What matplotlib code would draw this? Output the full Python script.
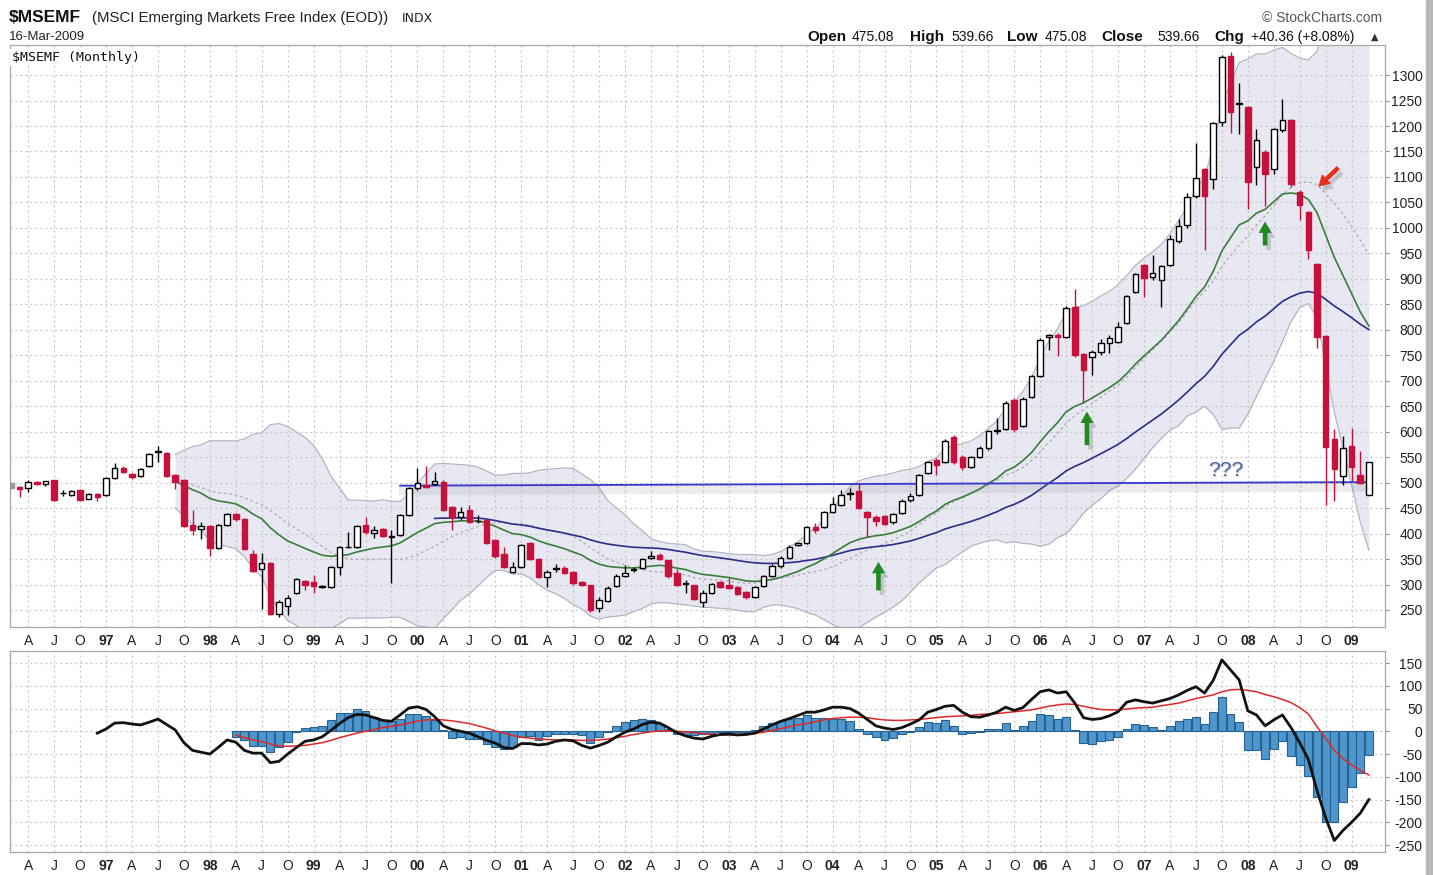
import numpy as np
import pandas as pd
import matplotlib
matplotlib.use("Agg")
import matplotlib.pyplot as plt
from matplotlib.patches import Rectangle

plt.rcParams["font.family"] = ["Liberation Sans", "DejaVu Sans"]

# monthly bars, Feb 1996 .. Mar 2009
months = pd.period_range("1996-02", "2009-03", freq="M")

open_ = [
    500, 491, 489, 502, 497, 505, 479, 476, 485, 468, 477,                 # 1996
    475, 509, 529, 516, 513, 533, 560, 558, 515, 505, 417, 408,            # 1997
    414, 372, 416, 438, 428, 360, 330, 343, 243, 257, 283, 306,            # 1998
    304, 296, 296, 335, 373, 374, 417, 402, 408, 394, 397, 437,            # 1999
    489, 495, 497, 502, 453, 433, 446, 424, 427, 387, 360, 325,            # 2000
    335, 381, 351, 315, 331, 333, 325, 305, 299, 253, 268, 297,            # 2001
    317, 329, 332, 353, 358, 348, 322, 301, 299, 266, 284, 304,            # 2002
    299, 296, 286, 275, 297, 317, 336, 353, 378, 381, 413, 413,            # 2003
    443, 457, 478, 484, 443, 433, 434, 423, 440, 466, 476, 518,            # 2004
    545, 541, 590, 551, 531, 551, 567, 601, 605, 663, 612, 668,            # 2005
    709, 786, 789, 786, 844, 752, 747, 756, 774, 777, 814, 875,            # 2006
    927, 903, 897, 927, 975, 1005, 1062, 1116, 1096, 1207, 1338, 1243,     # 2007
    1238, 1120, 1149, 1116, 1192, 1212, 1071, 1031, 930, 788, 585, 513,    # 2008
    572, 515, 475.08,                                                      # 2009
]
high = [
    501, 493, 505, 503, 504, 506, 485, 486, 487, 479, 479,
    512, 539, 532, 518, 528, 558, 571, 560, 517, 507, 446, 423,
    416, 419, 441, 440, 430, 368, 361, 345, 270, 280, 313, 309,
    319, 299, 337, 376, 404, 416, 433, 414, 410, 407, 439, 491,
    528, 533, 521, 505, 455, 453, 456, 436, 429, 389, 374, 345,
    380, 383, 353, 328, 340, 336, 327, 307, 300, 276, 297, 320,
    338, 335, 353, 365, 361, 349, 330, 309, 300, 289, 303, 306,
    312, 298, 288, 298, 319, 340, 356, 378, 384, 414, 420, 444,
    472, 486, 489, 499, 445, 436, 436, 441, 467, 479, 517, 542,
    548, 585, 593, 554, 553, 572, 604, 626, 660, 666, 668, 712,
    783, 792, 794, 846, 881, 755, 760, 781, 790, 816, 868, 912,
    930, 947, 928, 986, 1017, 1069, 1166, 1118, 1207, 1340, 1345, 1284,
    1240, 1194, 1152, 1196, 1253, 1214, 1075, 1034, 932, 790, 606, 591,
    608, 563, 539.66,
]
low = [
    488, 471, 482, 496, 493, 464, 474, 474, 465, 467, 463,
    474, 507, 518, 508, 511, 531, 541, 511, 487, 412, 397, 389,
    355, 370, 414, 425, 367, 325, 252, 240, 236, 240, 281, 289,
    283, 293, 294, 319, 371, 372, 400, 391, 393, 302, 395, 435,
    486, 489, 495, 444, 407, 427, 421, 421, 379, 352, 332, 322,
    333, 348, 312, 296, 325, 320, 300, 298, 247, 247, 266, 295,
    315, 325, 330, 351, 349, 313, 297, 283, 269, 256, 282, 293,
    291, 279, 271, 273, 295, 315, 333, 350, 375, 379, 401, 411,
    441, 455, 466, 448, 393, 414, 416, 418, 438, 462, 474, 516,
    515, 538, 537, 525, 529, 549, 565, 596, 603, 599, 610, 666,
    707, 760, 749, 784, 747, 659, 711, 750, 755, 775, 812, 872,
    865, 898, 845, 925, 970, 1000, 1058, 956, 1077, 1200, 1186, 1184,
    1038, 1084, 1042, 1105, 1188, 1080, 1016, 938, 764, 456, 463, 496,
    504, 497, 475.08,
]
close = [
    490, 487, 502, 497, 503, 466, 480, 484, 466, 477, 472,
    510, 528, 520, 512, 526, 556, 562, 513, 502, 415, 407, 415,
    371, 417, 438, 428, 369, 327, 343, 243, 265, 273, 311, 299,
    297, 297, 335, 373, 374, 414, 404, 407, 395, 396, 437, 489,
    499, 492, 504, 446, 433, 442, 423, 425, 381, 355, 335, 335,
    378, 350, 314, 325, 332, 322, 302, 300, 249, 270, 294, 317,
    323, 330, 351, 355, 351, 316, 299, 302, 271, 283, 301, 295,
    293, 281, 276, 296, 317, 337, 353, 373, 381, 412, 407, 442,
    459, 476, 480, 450, 433, 424, 419, 438, 464, 474, 515, 540,
    535, 582, 541, 531, 551, 567, 602, 604, 657, 605, 665, 709,
    780, 789, 785, 842, 751, 722, 756, 775, 783, 806, 866, 909,
    901, 912, 925, 979, 1003, 1060, 1097, 1062, 1205, 1335, 1227, 1246,
    1090, 1172, 1106, 1194, 1212, 1086, 1044, 956, 786, 569, 526, 567,
    530, 499.30, 539.66,
]

# lower panel (black line from Dec 1996, red line and bars from Apr 1998)
macd_start = "1996-12"
macd_vals = [
    -4,                                                     # 1996
    5, 18, 19, 16, 14, 20, 27, 15, 3, -25, -42, -46,        # 1997
    -50, -35, -19, -24, -42, -48, -48, -69, -66, -50, -36, -22,
    -19, -12, 2, 17, 30, 37, 36, 30, 24, 22, 36, 51,
    54, 48, 32, 12, 4, 0, -4, -12, -20, -26, -36, -38,
    -27, -27, -30, -28, -22, -19, -21, -31, -37, -31, -24, -12,
    -2, 5, 15, 20, 18, 8, -3, -10, -15, -17, -11, -7,
    -6, -8, -7, -4, 5, 14, 22, 28, 35, 42, 42, 47,
    53, 53, 50, 40, 26, 12, 7, 4, 8, 16, 25, 42,
    48, 55, 57, 42, 32, 31, 36, 42, 53, 46, 52, 70,
    87, 91, 84, 87, 62, 30, 26, 28, 34, 43, 64, 69,
    65, 62, 67, 72, 80, 90, 98, 84, 112, 157, 135, 113,
    45, 36, 12, 25, 36, 8, -25, -62, -130, -190, -240, -218,
    -200, -180, -150,                                       # 2009
]
signal_start = "1998-04"
signal_vals = [
    -8, -14, -19, -23, -28, -32, -33, -32, -31,             # 1998
    -28, -25, -20, -14, -9, -4, 0, 4, 8, 11, 14, 18,
    22, 25, 26, 25, 23, 20, 17, 12, 7, 1, -4, -9,
    -13, -15, -17, -18, -19, -19, -19, -20, -20, -19, -17, -14,
    -11, -7, -4, -1, 1, 1, 0, -1, -3, -5, -7, -8,
    -8, -7, -6, -5, -2, 2, 6, 10, 14, 17, 21, 25,
    28, 30, 31, 31, 30, 27, 25, 24, 24, 25, 26, 28,
    30, 32, 33, 34, 35, 37, 38, 39, 41, 43, 45, 47,
    51, 55, 58, 60, 59, 55, 51, 48, 47, 47, 49, 51,
    52, 53, 56, 59, 62, 67, 72, 76, 80, 87, 91, 92,
    90, 87, 81, 76, 70, 63, 52, 38, 10, -15, -42, -60,
    -74, -86, -96,                                          # 2009
]
hist_vals = [
    -12, -19, -32, -32, -45, -34, -23, -2, 7,               # 1998
    9, 12, 25, 41, 41, 48, 45, 32, 25, 23, 28, 39,
    38, 33, 25, 3, -15, -12, -18, -17, -28, -35, -38, -35,
    -12, -10, -20, -10, -5, -5, -5, -8, -25, -12, -2, 12,
    20, 25, 28, 25, 15, 5, -5, -8, -8, -5, -3, -2,
    -1, -1, -1, 3, 12, 18, 22, 28, 30, 35, 30, 30,
    28, 28, 22, 5, -5, -12, -20, -15, -5, -2, 10, 20,
    18, 24, 12, -5, -3, -2, 5, 5, 18, 3, 12, 22,
    38, 35, 28, 32, 2, -25, -27, -22, -20, -12, 5, 15,
    14, 9, 3, 12, 22, 28, 32, 15, 42, 75, 38, 20,
    -42, -42, -60, -38, -22, -55, -75, -98, -145, -200, -200, -155,
    -122, -92, -52,                                         # 2009
]

# horizontal trend line drawn on the chart
trend_months = ["1999-11", "2009-03"]
trend_values = [494, 501]

df = pd.DataFrame({"open": open_, "high": high, "low": low, "close": close}, index=months)
x = np.arange(len(df))


def ema(values, n):
    # stockcharts style: seeded with the simple average of the first n values
    v = np.asarray(values, dtype=float)
    out = np.full(len(v), np.nan)
    out[n - 1] = v[:n].mean()
    a = 2.0 / (n + 1)
    for k in range(n, len(v)):
        out[k] = out[k - 1] + a * (v[k] - out[k - 1])
    return out


ema20 = ema(df["close"], 20)
ema50 = ema(df["close"], 50)
sma20 = df["close"].rolling(20).mean()
sd20 = df["close"].rolling(20).std(ddof=0)
bb_up = sma20 + 2 * sd20
bb_lo = sma20 - 2 * sd20

xm = months.get_loc(pd.Period(macd_start, "M")) + np.arange(len(macd_vals))
xs = months.get_loc(pd.Period(signal_start, "M")) + np.arange(len(signal_vals))
xh = months.get_loc(pd.Period(signal_start, "M")) + np.arange(len(hist_vals))

# ---- figure / layout in pixels
W, H = 1433, 875
fig = plt.figure(figsize=(W / 100, H / 100), dpi=100)
fig.patch.set_facecolor("white")


def fx(px):
    return px / W


def fy(py):
    return 1 - py / H


ax = fig.add_axes([fx(10), fy(627), fx(1385) - fx(10), fy(45) - fy(627)])
ax2 = fig.add_axes([fx(10), fy(852), fx(1385) - fx(10), fy(651) - fy(852)])

red = "#c8103c"
grid_col = "#c4c4c4"

# quarter ticks A J O yy
qpos, qlab = [], []
for i, p in enumerate(months):
    if p.month in (1, 4, 7, 10) and i > 0:
        qpos.append(i)
        qlab.append({4: "A", 7: "J", 10: "O"}.get(p.month, p.strftime("%y")))

for a in (ax, ax2):
    a.set_xlim(-0.1, 158.86)
    a.set_xticks(qpos)
    a.set_xticklabels(qlab, fontsize=10, color="#222222")
    for t, lab in zip(a.get_xticklabels(), qlab):
        if lab.isdigit():
            t.set_fontweight("bold")
    a.tick_params(axis="x", length=0, pad=5)
    a.yaxis.tick_right()
    a.tick_params(axis="y", length=3, color="#888888", labelsize=10, labelcolor="#222222", pad=24)
    a.grid(True, color=grid_col, linestyle=(0, (1.5, 2.5)), linewidth=0.9)
    a.set_axisbelow("line")
    for s in a.spines.values():
        s.set_color("#a8a8a8")
        s.set_linewidth(0.9)

# ---- price panel
ax.set_ylim(216.6, 1359)
ax.set_yticks(np.arange(250, 1301, 50))
ax.set_yticklabels([str(v) for v in range(250, 1301, 50)])
for t in ax.get_yticklabels():
    t.set_horizontalalignment("right")

ax.fill_between(x, bb_lo, bb_up, color="#e8e8f3", lw=0, zorder=0.5)
ax.plot(x, bb_up, color="#b4b4c4", lw=0.9, zorder=1.6)
ax.plot(x, bb_lo, color="#b4b4c4", lw=0.9, zorder=1.6)
ax.plot(x, sma20, color="#b0b0b8", lw=1.0, ls=(0, (2, 2)), zorder=1.7)
ax.plot(x, ema50, color="#2c2c8c", lw=1.2, zorder=2.2)
ax.plot(x, ema20, color="#3a7d3a", lw=1.2, zorder=2.2)

# trend line with a soft shadow
tx = [months.get_loc(pd.Period(m, "M")) for m in trend_months]
for k in range(1, 9):
    ax.plot(tx, [v - 2.2 * k for v in trend_values], color="#7a7a8a", lw=1.6, alpha=0.07, zorder=2.3)
ax.plot(tx, trend_values, color="#3535cc", lw=1.3, zorder=2.4)

o = df["open"].values
c = df["close"].values
up = c >= o
wick_col = np.where(up, "black", red).tolist()
wick_col[0] = "#9a9a9a"
ax.vlines(x, df["low"], df["high"], colors=wick_col, lw=1.0, zorder=3)
bottom = np.minimum(o, c)
height = np.maximum(np.abs(c - o), 1.2)
face = np.where(up, "white", red).tolist()
edge = np.where(up, "black", red).tolist()
face[0] = edge[0] = "#9a9a9a"
ax.bar(x, height, bottom=bottom, width=0.64, color=face, edgecolor=edge, linewidth=1.0, zorder=4)

ax.text(0.0015, 0.978, "\\$MSEMF (Monthly)", transform=ax.transAxes, family="DejaVu Sans Mono",
        fontsize=9.5, va="center", ha="left", color="#111111", zorder=6,
        bbox=dict(facecolor="white", edgecolor="none", pad=1.5))

ax.text(140.6, 521, "???", fontsize=15, color="#8a8a9a", alpha=0.45, ha="center", va="center", zorder=5)
ax.text(140.4, 524, "???", fontsize=15, color="#4464a8", ha="center", va="center", zorder=5)


def arrow(x0, y0, x1, y1, col):
    style = "simple,head_width=0.62,head_length=0.55,tail_width=0.22"
    ax.annotate("", xy=(x1 + 0.4, y1 - 9), xytext=(x0 + 0.4, y0 - 9),
                arrowprops=dict(arrowstyle=style, color="#555555", alpha=0.25, lw=0, mutation_scale=15), zorder=5)
    ax.annotate("", xy=(x1, y1), xytext=(x0, y0),
                arrowprops=dict(arrowstyle=style, color=col, lw=0, mutation_scale=15), zorder=6)


arrow(100.3, 283, 100.3, 350, "#1f8a1f")
arrow(124.4, 568, 124.4, 645, "#1f8a1f")
arrow(145.0, 960, 145.0, 1018, "#1f8a1f")
arrow(153.7, 1122, 150.9, 1077, "#e8301e")

# ---- MACD panel
ax2.set_ylim(-265.3, 176.5)
ax2.set_yticks(np.arange(-250, 151, 50))
ax2.set_yticklabels([str(v) for v in range(-250, 151, 50)])
for t in ax2.get_yticklabels():
    t.set_horizontalalignment("right")
ax2.bar(xh, hist_vals, width=0.92, color="#4f96cd", edgecolor="#27618f", linewidth=0.8, zorder=2)
ax2.plot(xs, signal_vals, color="#e02828", lw=1.1, zorder=3)
ax2.plot(xm, macd_vals, color="#111111", lw=2.0, zorder=4)

# ---- header
fig.text(fx(9), fy(18), "\\$MSEMF", fontsize=12.5, weight="bold", va="center", ha="left", color="#111111")
fig.text(fx(92), fy(18), "(MSCI Emerging Markets Free Index (EOD))", fontsize=10.8, va="center", ha="left", color="#222222")
fig.text(fx(402), fy(18), "INDX", fontsize=9, va="center", ha="left", color="#222222", family="DejaVu Sans")
fig.text(fx(9), fy(37), "16-Mar-2009", fontsize=9.5, va="center", ha="left", color="#222222")
fig.text(fx(1382), fy(18), "\u00a9 StockCharts.com", fontsize=10, va="center", ha="right", color="#555555")

hdr = [("Open", 807, True), ("475.08", 852, False), ("High", 910, True), ("539.66", 951, False),
       ("Low", 1007, True), ("475.08", 1045, False), ("Close", 1101, True), ("539.66", 1157, False),
       ("Chg", 1214, True), ("+40.36 (+8.08%)", 1251, False)]
for txt, px, b in hdr:
    fig.text(fx(px), fy(37), txt, fontsize=11 if b else 10, weight="bold" if b else "normal",
             va="center", ha="left", color="#111111")
fig.text(fx(1371), fy(37), "\u25b2", fontsize=7, va="center", ha="left", color="#333333", family="DejaVu Sans")

fig.patches.append(Rectangle((fx(1426), 0), fx(1433) - fx(1426), 1, transform=fig.transFigure,
                             color="#b8b8b8", zorder=-1))

fig.savefig("out.png", dpi=100)
